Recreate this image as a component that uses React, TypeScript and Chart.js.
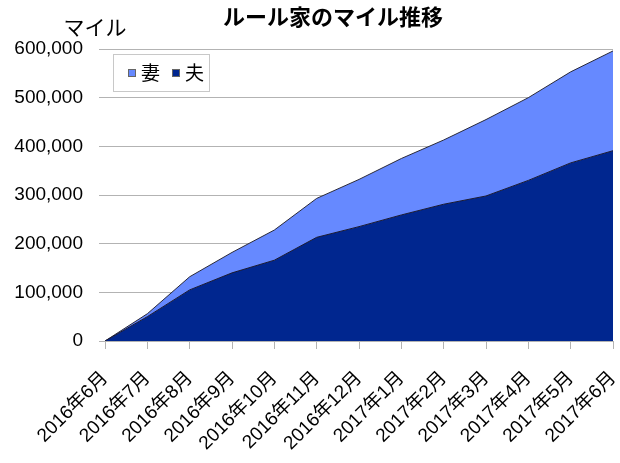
import React, { useEffect, useRef } from "react";
import { Chart, registerables } from "chart.js";

Chart.register(...registerables);

const months = [
  "2016年6月", "2016年7月", "2016年8月", "2016年9月", "2016年10月", "2016年11月", "2016年12月",
  "2017年1月", "2017年2月", "2017年3月", "2017年4月", "2017年5月", "2017年6月",
];
const husband = [0, 50000, 105000, 140000, 166000, 213000, 235000, 259000, 281000, 298000, 330000, 366000, 391000];
const wife = [0, 6000, 27000, 42000, 62000, 80000, 97000, 116000, 132000, 157000, 170000, 187000, 205000];
const chartTitle = "ルール家のマイル推移";
const yTitle = "マイル";

const FONT = "'Liberation Sans', 'Noto Sans CJK JP', sans-serif";
const JP = "'Noto Sans CJK JP', 'Liberation Sans', sans-serif";

const decorPlugin = {
  id: "decor",
  afterDraw(chart: any) {
    const ctx = chart.ctx;
    ctx.save();
    ctx.fillStyle = "#000";
    ctx.textAlign = "center";
    ctx.textBaseline = "middle";
    ctx.font = `bold 22px ${JP}`;
    ctx.fillText(chartTitle, 333, 17);
    ctx.font = `21px ${JP}`;
    ctx.fillText(yTitle, 95, 27);
    // legend
    const x0 = 113, y0 = 54, w = 96, h = 37;
    ctx.fillStyle = "#fff";
    ctx.fillRect(x0, y0, w, h);
    ctx.strokeStyle = "#c8c8c8";
    ctx.lineWidth = 1;
    ctx.strokeRect(x0 + 0.5, y0 + 0.5, w, h);
    const items = chart.data.datasets.slice().reverse();
    let x = x0 + 15;
    const cy = y0 + 19;
    ctx.font = `19px ${JP}`;
    ctx.textAlign = "left";
    items.forEach((ds: any) => {
      ctx.fillStyle = ds.backgroundColor;
      ctx.fillRect(x, cy - 4, 8, 8);
      ctx.strokeStyle = "#666";
      ctx.strokeRect(x + 0.5, cy - 3.5, 7, 7);
      ctx.fillStyle = "#000";
      ctx.fillText(ds.label, x + 13, cy);
      x += 13 + ctx.measureText(ds.label).width + 12;
    });
    ctx.restore();
  },
};

export default function App() {
  const ref = useRef<HTMLCanvasElement>(null);
  useEffect(() => {
    document.body.style.margin = "0";
    const chart = new Chart(ref.current!, {
      type: "line",
      data: {
        labels: months,
        datasets: [
          {
            label: "夫",
            data: husband,
            backgroundColor: "#00268f",
            borderColor: "#1a1a33",
            borderWidth: 1,
            fill: "origin",
            pointRadius: 0,
            tension: 0,
          },
          {
            label: "妻",
            data: wife,
            backgroundColor: "#6689ff",
            borderColor: "#2a2a3a",
            borderWidth: 1,
            fill: "-1",
            pointRadius: 0,
            tension: 0,
          },
        ],
      },
      options: {
        animation: false,
        responsive: false,
        maintainAspectRatio: false,
        layout: { padding: { top: 49, right: 7, left: 0, bottom: 0 } },
        plugins: {
          legend: { display: false },
          title: { display: false },
          tooltip: { enabled: false },
        },
        scales: {
          x: {
            offset: false,
            grid: { drawOnChartArea: false, drawTicks: true, tickLength: 8, color: "#b3b3b3" },
            border: { color: "#b3b3b3" },
            ticks: {
              autoSkip: false,
              maxRotation: 45,
              minRotation: 45,
              color: "#000",
              padding: 18,
              font: { family: FONT, size: 19 },
            },
            afterFit(scale: any) {
              scale.height = 122;
              scale.paddingRight = 0;
              scale.paddingLeft = 0;
            },
          },
          y: {
            stacked: true,
            min: 0,
            max: 600000,
            grid: { color: "#b3b3b3", tickLength: 6 },
            border: { display: false },
            ticks: {
              stepSize: 100000,
              color: "#000",
              padding: 16,
              font: { family: FONT, size: 19 },
              callback: (v: any) => Number(v).toLocaleString("en-US"),
            },
            afterFit(scale: any) {
              scale.width = 105;
              scale.paddingTop = 0;
              scale.paddingBottom = 0;
            },
          },
        },
      },
      plugins: [decorPlugin],
    });
    return () => chart.destroy();
  }, []);
  return (
    <div style={{ width: 620, height: 463, background: "#fff" }}>
      <canvas ref={ref} width={620} height={463} style={{ width: 620, height: 463 }} />
    </div>
  );
}
